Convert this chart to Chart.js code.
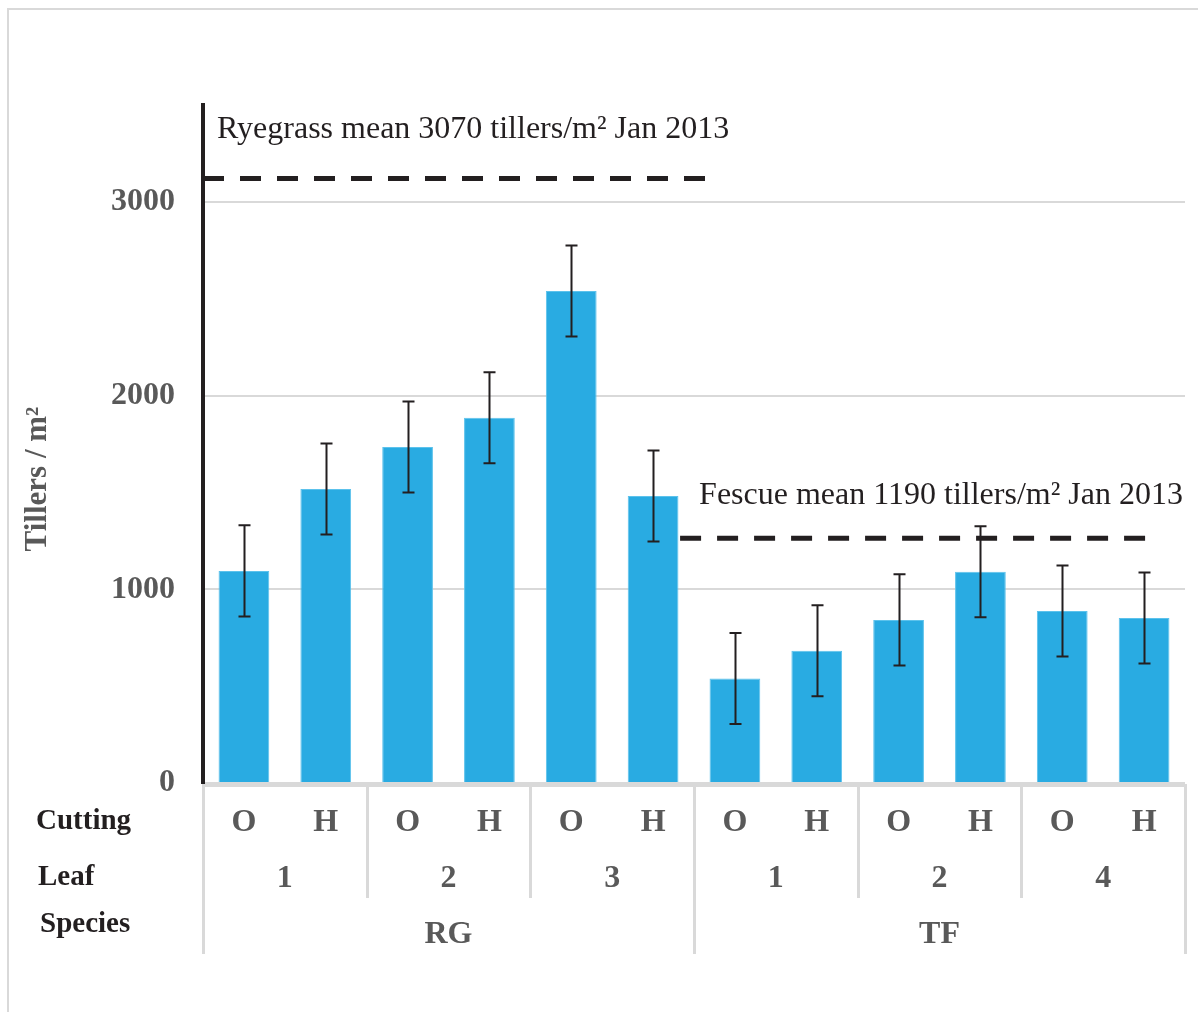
<!DOCTYPE html>
<html>
<head>
<meta charset="utf-8">
<script src="https://cdn.jsdelivr.net/npm/chart.js@4/dist/chart.umd.min.js"></script>
<style>
  body { margin: 0; background: #fff; }
</style>
</head>
<body>
<canvas id="myChart" width="1198" height="1012"></canvas>
<script>
// categories
const cutting = ['O', 'H', 'O', 'H', 'O', 'H', 'O', 'H', 'O', 'H', 'O', 'H'];
const leaf = ['1', '1', '2', '2', '3', '3', '1', '1', '2', '2', '4', '4'];
const species = ['RG', 'RG', 'RG', 'RG', 'RG', 'RG', 'TF', 'TF', 'TF', 'TF', 'TF', 'TF'];

// tillers / m2 and error bars
const tillers = [1095, 1518, 1735, 1885, 2540, 1482, 539, 683, 842, 1091, 888, 852];
const tillerErr = [235, 235, 235, 235, 235, 235, 235, 235, 235, 235, 235, 235];

const yTicks = [0, 1000, 2000, 3000];

// mean lines (value, from / to in category index units)
const meanText = ['Ryegrass mean 3070 tillers/m² Jan 2013', 'Fescue mean 1190 tillers/m² Jan 2013'];
const meanValue = [3120, 1263];
const meanFrom = [-0.5, 5.33];
const meanTo = [5.7, 11.07];

const ink = '#231f20';
const grey = '#595959';
const lineGrey = '#d9d9d9';
const serif = "'Liberation Serif', 'Times New Roman', serif";

const extras = {
	id: 'extras',
	beforeDraw(chart) {
		const c = chart.ctx;
		c.save();
		c.strokeStyle = lineGrey;
		c.lineWidth = 2;
		c.strokeRect(8, 9, 1300, 1100);
		c.restore();
	},
	afterDatasetsDraw(chart) {
		const c = chart.ctx;
		const x = chart.scales.x;
		const y = chart.scales.y;
		const meta = chart.getDatasetMeta(0);

		// error bars
		c.save();
		c.strokeStyle = ink;
		c.lineWidth = 2;
		tillers.forEach((v, i) => {
			const px = Math.round(meta.data[i].x) + 0.5;
			const top = y.getPixelForValue(v + tillerErr[i]);
			const bot = y.getPixelForValue(v - tillerErr[i]);
			c.beginPath();
			c.moveTo(px, top);
			c.lineTo(px, bot);
			c.moveTo(px - 6, top);
			c.lineTo(px + 6, top);
			c.moveTo(px - 6, bot);
			c.lineTo(px + 6, bot);
			c.stroke();
		});
		c.restore();

		// mean lines + text
		const step = x.getPixelForValue(1) - x.getPixelForValue(0);
		const toPx = (v) => x.getPixelForValue(0) + v * step;
		c.save();
		c.strokeStyle = ink;
		c.lineWidth = 5;
		c.setLineDash([21, 16]);
		meanValue.forEach((v, i) => {
			const py = y.getPixelForValue(v);
			c.beginPath();
			c.moveTo(toPx(meanFrom[i]), py);
			c.lineTo(toPx(meanTo[i]), py);
			c.stroke();
		});
		c.setLineDash([]);
		c.fillStyle = ink;
		c.font = '32px ' + serif;
		c.textBaseline = 'alphabetic';
		c.textAlign = 'left';
		c.fillText(meanText[0], toPx(meanFrom[0]) + 14, y.getPixelForValue(meanValue[0]) - 41);
		c.fillText(meanText[1], toPx(meanFrom[1]) + 19, y.getPixelForValue(meanValue[1]) - 34);
		c.restore();

		// y title
		c.save();
		c.translate(38, 479);
		c.rotate(-Math.PI / 2);
		c.fillStyle = grey;
		c.font = 'bold 31px ' + serif;
		c.textAlign = 'center';
		c.textBaseline = 'middle';
		c.fillText('Tillers / m²', 0, 0);
		c.restore();

		// category table under the axis
		const area = chart.chartArea;
		const half = step / 2;
		c.save();
		c.fillStyle = lineGrey;
		c.fillRect(area.left, area.bottom + 1, area.right - area.left + 2, 3);

		const rowY = [823, 879, 935];
		const leafBottom = 897;
		const speciesBottom = 953;

		// separators
		for (let i = 0; i <= cutting.length; i++) {
			const edge = i === cutting.length || i === 0 || species[i] !== species[i - 1];
			const leafEdge = edge || leaf[i] !== leaf[i - 1];
			if (!leafEdge) continue;
			const sx = (i < cutting.length ? x.getPixelForValue(i) - half : x.getPixelForValue(i - 1) + half);
			c.fillRect(Math.round(sx) - 1, area.bottom + 1, 3, (edge ? speciesBottom : leafBottom) - area.bottom);
		}

		c.fillStyle = grey;
		c.font = 'bold 32px ' + serif;
		c.textAlign = 'center';
		c.textBaseline = 'middle';
		cutting.forEach((t, i) => c.fillText(t, x.getPixelForValue(i), rowY[0]));

		const runs = (keys, row) => {
			let s = 0;
			for (let i = 1; i <= keys.length; i++) {
				if (i === keys.length || keys[i] !== keys[s]) {
					const mid = (x.getPixelForValue(s) + x.getPixelForValue(i - 1)) / 2;
					c.fillText(row[s], mid, rowY[row === leaf ? 1 : 2]);
					s = i;
				}
			}
		};
		runs(leaf.map((l, i) => species[i] + l), leaf);
		runs(species, species);

		c.fillStyle = ink;
		c.font = 'bold 29px ' + serif;
		c.textAlign = 'left';
		c.fillText('Cutting', 36, 822);
		c.fillText('Leaf', 38, 878);
		c.fillText('Species', 40, 925);
		c.restore();
	}
};

const ctx = document.getElementById('myChart');

new Chart(ctx, {
	type: 'bar',
	data: {
		labels: cutting,
		datasets: [{
			data: tillers,
			backgroundColor: '#29abe2',
			borderColor: '#5cc2ec',
			borderWidth: 1,
			barPercentage: 0.62,
			categoryPercentage: 1
		}]
	},
	options: {
		responsive: false,
		animation: false,
		devicePixelRatio: 1,
		layout: {
			padding: { left: 0, top: 105, right: 13, bottom: 229 }
		},
		plugins: {
			legend: { display: false },
			tooltip: { enabled: false }
		},
		scales: {
			x: {
				display: false
			},
			y: {
				min: 0,
				max: 3500,
				afterBuildTicks: (s) => { s.ticks = yTicks.map(v => ({ value: v })); },
				afterFit: (s) => { s.width = 203; },
				ticks: {
					color: grey,
					padding: 28,
					callback: (v) => String(v),
					font: { family: serif, size: 32, weight: 'bold' }
				},
				grid: { color: lineGrey, lineWidth: 2, drawTicks: false },
				border: { color: ink, width: 4 }
			}
		}
	},
	plugins: [extras]
});
</script>
</body>
</html>
